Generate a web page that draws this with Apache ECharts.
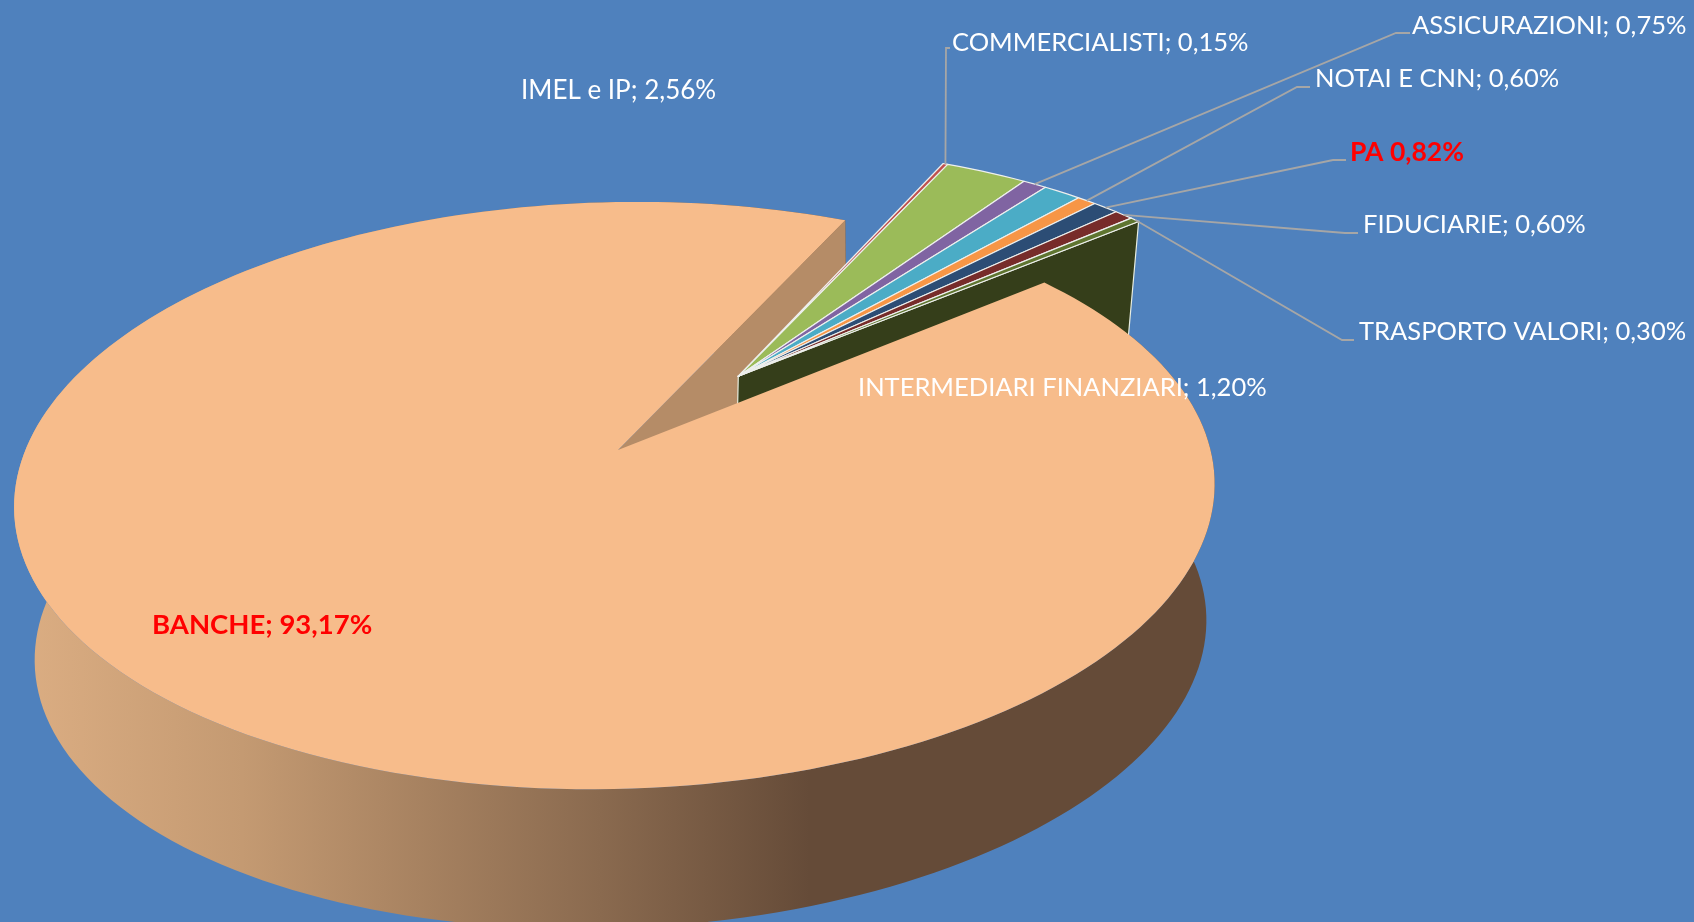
<!DOCTYPE html>
<html>
<head>
<meta charset="utf-8">
<title>Ripartizione per categoria</title>
<script src="https://cdn.jsdelivr.net/npm/echarts@6/dist/echarts.min.js"></script>
<style>
html,body{margin:0;padding:0;background:#4F81BD;overflow:hidden}
#chart{width:1694px;height:922px}
</style>
</head>
<body>
<div id="chart"></div>
<script>
// Slices in drawing order, clockwise.
const categories = ['BANCHE','COMMERCIALISTI','IMEL e IP','ASSICURAZIONI','INTERMEDIARI FINANZIARI','NOTAI E CNN','PA','FIDUCIARIE','TRASPORTO VALORI'];
const shares = [93.17,0.15,2.56,0.75,1.20,0.60,0.82,0.60,0.30];
const labelSeparators = ['; ','; ','; ','; ','; ','; ',' ','; ','; '];

// Slice and label styling.
const topColors = ['#F7BC8B','#C0504D','#9BBB59','#8064A2','#4BACC6','#F79646','#2C4D75','#772C2A','#5F7530'];
const labelColors = ['#FF0000','#FFFFFF','#FFFFFF','#FFFFFF','#FFFFFF','#FFFFFF','#FF0000','#FFFFFF','#FFFFFF'];
const labelWeights = ['bold','normal','normal','normal','normal','normal','bold','normal','normal'];
const labelSizes = [27.5,25.5,26,25.5,25.5,25.5,26.5,25.5,25.5];

// Label anchors and leader elbows, in pixels.
const labelAnchors = [[152,625],[952,43],[521,91],[1412,26],[858,388],[1315,79],[1350,152],[1363,225],[1359,332]];
const leaderElbows = [null,[946,48],null,[1396,33],null,[1297,87],[1333,160],[1345,233],[1342,340]];
const leaderEnds = [null,[950,48],null,[1410,33],null,[1310,87],[1346,160],[1358,233],[1354,340]];

// Projection of the tilted disc onto the page.
const view = {cx:618, cy:450, ax:593, bx:0, ay:-11, by:286.4, k:0.155, m:-0.006, n:0.024, q:0.14};
const bigSolid = {depth:150, dx:6, tilt:8};
const wedgeSolid = {depth:120, dx:0, tilt:0};
const groupBisector = 50.9;   // direction of the detached wedge group, degrees
const groupExplosion = 0.335; // in radii
const foreshorten = 0.6;      // angular foreshortening of the tilted disc, degrees
const fontFamily = 'Lato, Carlito, "Open Sans", sans-serif';

const rad = d => d * Math.PI / 180;

function project(X, Y, Z, solid) {
  const w = 1 - view.k * Y - view.m * X + view.n * Z;
  return [
    view.cx + solid.dx * Z + (view.ax * X + view.bx * Y) / w,
    view.cy + (view.ay * X + view.by * Y + solid.depth * Z * (1 - view.q * Y) - solid.tilt * X * Z) / w
  ];
}

// Angular extents derived from the shares, running clockwise.
const total = shares.reduce((a, b) => a + b, 0);
const sweeps = shares.map(v => v / total * 360);
const groupSweep = 360 - sweeps[0];
const spans = [];
let cursor = groupBisector - groupSweep / 2;
sweeps.forEach(s => { spans.push([cursor, cursor - s]); cursor -= s; });

function origin(i) {
  if (i === 0) return [0, 0];
  return [groupExplosion * Math.cos(rad(groupBisector)), -groupExplosion * Math.sin(rad(groupBisector))];
}

function solidOf(i) { return i === 0 ? bigSolid : wedgeSolid; }

function rimPoint(i, deg, Z) {
  const o = origin(i);
  const seen = deg + foreshorten * Math.sin(2 * rad(deg - groupBisector)) / Math.sin(rad(groupSweep));
  return project(o[0] + Math.cos(rad(seen)), o[1] - Math.sin(rad(seen)), Z, solidOf(i));
}

function arc(i, from, to, Z) {
  const steps = Math.max(2, Math.ceil(Math.abs(to - from) / 1.5));
  const pts = [];
  for (let s = 0; s <= steps; s++) pts.push(rimPoint(i, from + (to - from) * s / steps, Z));
  return pts;
}

function hub(i, Z) {
  const o = origin(i);
  return project(o[0], o[1], Z, solidOf(i));
}

const sideGradient = {
  type: 'linear', x: 0, y: 0, x2: 1, y2: 0,
  colorStops: [
    {offset: 0, color: '#DCAE83'},
    {offset: 0.19, color: '#C49A72'},
    {offset: 0.488, color: '#8A6A4F'},
    {offset: 0.663, color: '#654B38'},
    {offset: 1, color: '#654B38'}
  ]
};

function drawSlice(params) {
  const i = params.dataIndex;
  const span = spans[i];
  const children = [];
  if (i === 0) {
    // Rim and cut face go behind the detached wedges; the top goes in front.
    const rimTop = arc(0, span[0], span[1], 0);
    const rimBottom = arc(0, span[0], span[1], 1).reverse();
    children.push({type: 'polygon', z2: 1, shape: {points: rimTop.concat(rimBottom)}, style: {fill: sideGradient}});
    const cutA = rimPoint(0, span[1], 0), cutB = rimPoint(0, span[1], 1);
    children.push({type: 'polygon', z2: 2, shape: {points: [hub(0, 0), cutA, cutB, hub(0, 1)]}, style: {fill: '#B58C67'}});
    children.push({type: 'polygon', z2: 20, shape: {points: [hub(0, 0)].concat(rimTop)}, style: {fill: topColors[0]}});
  } else {
    if (i === categories.length - 1) {
      const a = rimPoint(i, span[1], 0), b = rimPoint(i, span[1], 1);
      children.push({type: 'polygon', z2: 5, shape: {points: [hub(i, 0), a, b, hub(i, 1)]},
        style: {fill: '#353E1A', stroke: '#E8EDE0', lineWidth: 1.2}});
    }
    children.push({type: 'polygon', z2: 10 + i, shape: {points: [hub(i, 0)].concat(arc(i, span[0], span[1], 0))},
      style: {fill: topColors[i], stroke: '#EEF0EE', lineWidth: 1.2, lineJoin: 'round'}});
  }
  if (leaderElbows[i]) {
    const start = rimPoint(i, (span[0] + span[1]) / 2, 0);
    children.push({type: 'polyline', z2: 30, shape: {points: [start, leaderElbows[i], leaderEnds[i]]},
      style: {stroke: '#A6A6A6', lineWidth: 1.8, fill: null}});
  }
  children.push({type: 'text', z2: 40, style: {
    text: categories[i] + labelSeparators[i] + shares[i].toFixed(2).replace('.', ',') + '%',
    x: labelAnchors[i][0], y: labelAnchors[i][1],
    fill: labelColors[i], font: labelWeights[i] + ' ' + labelSizes[i] + 'px ' + fontFamily,
    align: 'left', verticalAlign: 'middle'
  }});
  return {type: 'group', children};
}

const chart = echarts.init(document.getElementById('chart'), null, {renderer: 'canvas'});
chart.setOption({
  animation: false,
  backgroundColor: '#4F81BD',
  tooltip: {show: false},
  series: [{
    type: 'custom',
    coordinateSystem: 'none',
    silent: true,
    renderItem: drawSlice,
    data: categories.map((name, i) => ({name, value: shares[i]}))
  }]
});
</script>
</body>
</html>
